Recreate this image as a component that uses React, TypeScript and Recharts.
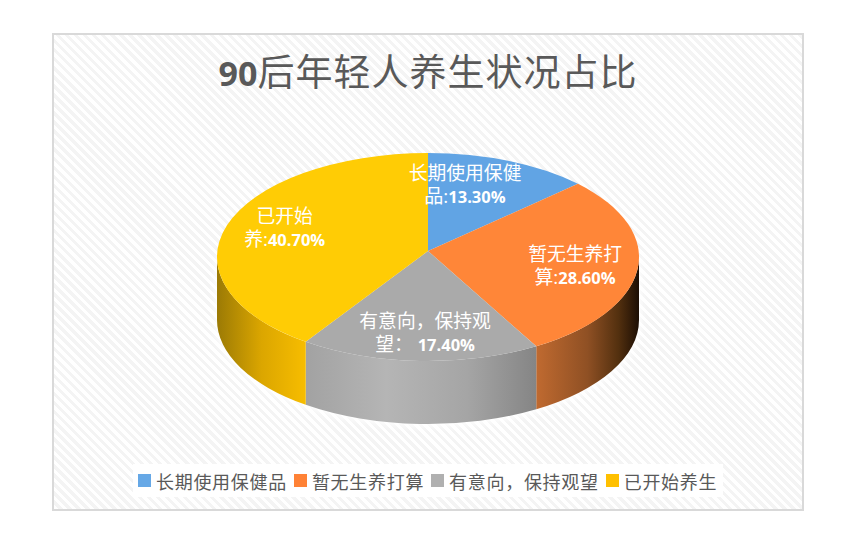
import React from "react";
import { PieChart, Pie, Legend } from "recharts";

const categories = ["长期使用保健品", "暂无生养打算", "有意向，保持观望", "已开始养生"];
const shares = [13.3, 28.6, 17.4, 40.7];
const topColors = ["#61a4e4", "#ff8638", "#aaaaaa", "#ffcc05"];
const legendColors = ["#66a8e6", "#ff8236", "#b0b0b0", "#ffc000"];
const labelFirstLines = ["长期使用保健", "暂无生养打", "有意向，保持观", "已开始"];
const labelLeadChars = ["品:", "算:", "望： ", "养:"];

const rows = categories.map((name, i) => ({ name, value: shares[i], fill: topColors[i] }));

// layout
const W = 856;
const H = 545;
const CX = 428;
const CY = 257;
const RX = 211;
const KY = 104 / 211;
const DEPTH = 63;
const APEX_LIFT = 6;
const PERSPECTIVE_SKEW = 3.5;
const LABEL_FRACTION = 0.62;
const labelNudgeX = [-16, 18, 2, -18];
const labelNudgeY = [-13, -1, 12, -10];
const CJK = '"Noto Sans CJK SC", sans-serif';
const MIXED = '"Open Sans", "Noto Sans CJK SC", sans-serif';

const RAD = Math.PI / 180;
// the front of the disc looks wider than the back, as in a perspective view
const warp = (deg: number) => deg + PERSPECTIVE_SKEW * Math.cos(deg * RAD);
const point = (cx: number, cy: number, r: number, deg: number) => ({
  x: cx + r * Math.cos(deg * RAD),
  y: cy - r * KY * Math.sin(deg * RAD),
});

function wallPath(cx: number, cy: number, r: number, startAngle: number, endAngle: number) {
  const from = Math.min(warp(startAngle), 0);
  const to = Math.max(warp(endAngle), -180);
  if (from <= to) return null;
  const ry = r * KY;
  const a = point(cx, cy, r, from);
  const b = point(cx, cy, r, to);
  return `M${a.x},${a.y}A${r},${ry} 0 0 1 ${b.x},${b.y}L${b.x},${b.y + DEPTH}A${r},${ry} 0 0 0 ${a.x},${a.y + DEPTH}Z`;
}

function SliceGlow(props: any) {
  const { cx, cy, outerRadius: r, startAngle, endAngle } = props;
  const d = wallPath(cx, cy, r, startAngle, endAngle);
  return d ? <path d={d} fill="#ffffff" stroke="#ffffff" strokeWidth={4} filter="url(#rimGlow)" /> : <g />;
}

function Slice3D(props: any) {
  const { cx, cy, outerRadius: r, startAngle, endAngle, fill } = props;
  const index = topColors.indexOf(fill);
  const s = point(cx, cy, r, warp(startAngle));
  const e = point(cx, cy, r, warp(endAngle));
  const large = Math.abs(startAngle - endAngle) > 180 ? 1 : 0;
  const top = `M${cx},${cy - APEX_LIFT}L${s.x},${s.y}A${r},${r * KY} 0 ${large} 1 ${e.x},${e.y}Z`;
  const wall = wallPath(cx, cy, r, startAngle, endAngle);
  return (
    <g>
      {wall ? <path d={wall} fill={`url(#wall${index})`} /> : null}
      <path d={top} fill={fill} />
    </g>
  );
}

function SliceLabel(props: any) {
  const { cx, cy, outerRadius: r, midAngle, index } = props;
  const p = point(cx, cy, r * LABEL_FRACTION, midAngle);
  const x = p.x + labelNudgeX[index];
  const y = p.y + labelNudgeY[index];
  return (
    <text x={x} textAnchor="middle" fill="#ffffff" fontSize={18.8} fontFamily={MIXED}>
      <tspan x={x} y={y - 5}>{labelFirstLines[index]}</tspan>
      <tspan x={x} y={y + 18}>
        {labelLeadChars[index]}
        <tspan fontWeight={700} fontSize={16.5}>{shares[index].toFixed(2)}%</tspan>
      </tspan>
    </text>
  );
}

function LegendRow() {
  return (
    <div
      style={{
        display: "flex",
        alignItems: "center",
        height: 33,
        paddingLeft: 5,
        background: "#ffffff",
        fontFamily: CJK,
        fontSize: 18,
        letterSpacing: 0.7,
        color: "#595959",
        whiteSpace: "nowrap",
      }}
    >
      {categories.map((c, i) => (
        <span key={c} style={{ display: "flex", alignItems: "center", marginRight: 7 }}>
          <span style={{ width: 13, height: 13, background: legendColors[i], marginRight: 5 }} />
          {c}
        </span>
      ))}
    </div>
  );
}

export default function App() {
  return (
    <div style={{ position: "absolute", left: 0, top: 0, width: W, height: H, background: "#fff" }}>
      <div
        style={{
          position: "absolute",
          left: 52,
          top: 33,
          width: 748,
          height: 474,
          border: "2px solid #d9d9d9",
          background:
            "repeating-linear-gradient(45deg, #ffffff 0px, #ffffff 3.2px, #f4f4f4 3.2px, #f4f4f4 6.4px)",
        }}
      />
      <div style={{ position: "absolute", left: 0, top: 0 }}>
        <PieChart width={W} height={H} margin={{ top: 0, right: 0, bottom: 0, left: 0 }}>
          <defs>
            <linearGradient id="wall1" x1="0" x2="1" y1="0" y2="0">
              <stop offset="0" stopColor="#c06a30" />
              <stop offset="0.5" stopColor="#8f5024" />
              <stop offset="0.8" stopColor="#53300f" />
              <stop offset="1" stopColor="#1c0e04" />
            </linearGradient>
            <linearGradient id="wall2" x1="0" x2="1" y1="0" y2="0">
              <stop offset="0" stopColor="#a2a2a2" />
              <stop offset="0.35" stopColor="#b5b5b5" />
              <stop offset="0.7" stopColor="#a5a5a5" />
              <stop offset="1" stopColor="#858585" />
            </linearGradient>
            <linearGradient id="wall3" x1="0" x2="1" y1="0" y2="0">
              <stop offset="0" stopColor="#9b7a05" />
              <stop offset="0.5" stopColor="#dba600" />
              <stop offset="1" stopColor="#f7bd00" />
            </linearGradient>
            <filter id="rimGlow" x="-10%" y="-20%" width="120%" height="140%">
              <feGaussianBlur stdDeviation="3" />
            </filter>
          </defs>
          <text x={CX} y={86} textAnchor="middle" fill="#595959" fontSize={37} letterSpacing={1} fontFamily={MIXED}>
            <tspan fontWeight={700} fontSize={34} letterSpacing={0}>90</tspan>后年轻人养生状况占比
          </text>
          <Pie
            data={rows}
            dataKey="value"
            cx={CX}
            cy={CY}
            outerRadius={RX}
            startAngle={90}
            endAngle={-270}
            stroke="none"
            shape={SliceGlow}
            legendType="none"
            isAnimationActive={false}
          />
          <Pie
            data={rows}
            dataKey="value"
            nameKey="name"
            cx={CX}
            cy={CY}
            outerRadius={RX}
            startAngle={90}
            endAngle={-270}
            stroke="none"
            shape={Slice3D}
            label={SliceLabel}
            labelLine={false}
            isAnimationActive={false}
          />
          <Legend
            content={() => <LegendRow />}
            layout="horizontal"
            wrapperStyle={{ position: "absolute", left: 133, top: 464, width: 590, bottom: "auto" }}
          />
        </PieChart>
      </div>
    </div>
  );
}
